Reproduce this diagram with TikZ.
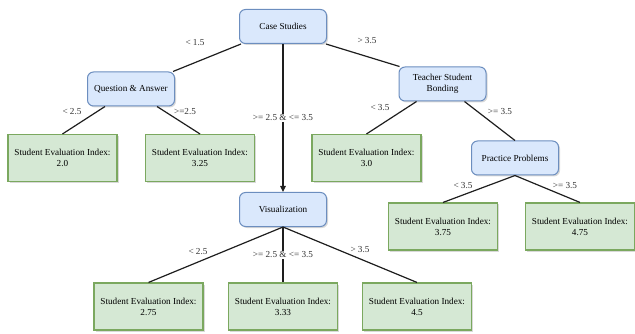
\documentclass[tikz,border=0pt]{standalone}
\usepackage{fontspec}
\setmainfont{Liberation Serif}
\usetikzlibrary{shadows,arrows.meta}
\definecolor{bfill}{HTML}{DAE8FC}
\definecolor{bdraw}{HTML}{6C8EBF}
\definecolor{gfill}{HTML}{D5E8D4}
\definecolor{gdraw}{HTML}{7BA85F}
\definecolor{edgec}{HTML}{1E1E1E}
\definecolor{labc}{HTML}{333333}
\tikzset{
  bluebox/.style={draw=bdraw, fill=bfill, rounded corners=6pt, line width=1pt,
    minimum width=87pt, minimum height=34pt, align=center, inner sep=1pt,
    font=\fontsize{9.2}{11}\selectfont,
    drop shadow={shadow xshift=1.5pt, shadow yshift=-1.5pt, opacity=0.3}},
  greenbox/.style={draw=gdraw, fill=gfill, line width=1.1pt,
    minimum width=109pt, minimum height=47pt, align=center, inner sep=1pt,
    font=\fontsize{9.2}{11}\selectfont,
    drop shadow={shadow xshift=1.5pt, shadow yshift=-1.5pt, opacity=0.3}},
  edge/.style={draw=edgec, line width=1.2pt},
  lab/.style={text=labc, font=\fontsize{9.2}{11}\selectfont, inner sep=1pt},
  labw/.style={lab, fill=white},
}
\begin{document}
\begin{tikzpicture}[x=1pt,y=-1pt]
\useasboundingbox (0,0) rectangle (635,334);

\node[bluebox] (cs) at (283,26.5) {Case Studies};
\node[bluebox] (qa) at (131,89) {Question \& Answer};
\node[bluebox] (tsb) at (442.5,84) {Teacher Student\\Bonding};
\node[bluebox] (vis) at (283,209.5) {Visualization};
\node[bluebox] (pp) at (515,158) {Practice Problems};

\node[greenbox] (l1) at (62.5,158) {Student Evaluation Index:\\2.0};
\node[greenbox] (l2) at (200,158) {Student Evaluation Index:\\3.25};
\node[greenbox] (l3) at (366.5,158) {Student Evaluation Index:\\3.0};
\node[greenbox] (l4) at (443,226.5) {Student Evaluation Index:\\3.75};
\node[greenbox] (l5) at (580,226.5) {Student Evaluation Index:\\4.75};
\node[greenbox] (l6) at (148.5,306.5) {Student Evaluation Index:\\2.75};
\node[greenbox] (l7) at (283,306.5) {Student Evaluation Index:\\3.33};
\node[greenbox] (l8) at (417,306.5) {Student Evaluation Index:\\4.5};

\draw[edge] ([xshift=2pt]cs.south west) -- ([xshift=-2pt]qa.north east);
\draw[edge] ([xshift=-26pt]qa.south) -- (l1.north);
\draw[edge] ([xshift=26pt]qa.south) -- (l2.north);
\draw[edge, -{Triangle[length=6pt,width=5.5pt]}] (cs.south) -- (vis.north);
\draw[edge] ([xshift=-1pt]cs.south east) -- ([xshift=1pt]tsb.north west);
\draw[edge] ([xshift=-26pt]tsb.south) -- (l3.north);
\draw[edge] ([xshift=22pt]tsb.south) -- (pp.north);
\draw[edge] (pp.south) -- (l4.north);
\draw[edge] (pp.south) -- (l5.north);
\draw[edge] (vis.south) -- (l6.north);
\draw[edge] (vis.south) -- (l7.north);
\draw[edge] (vis.south) -- (l8.north);

\node[lab] (t1) at (195,43) {< 1.5};
\node[lab] (t2) at (72,112) {< 2.5};
\node[lab] (t3) at (185,112) {>=2.5};
\node[labw] (t4) at (283,118) {>= 2.5 \& <= 3.5};
\node[lab] (t5) at (367,41) {> 3.5};
\node[lab] (t6) at (380,108) {< 3.5};
\node[lab] (t7) at (500,112) {>= 3.5};
\node[lab] (t8) at (463,186) {< 3.5};
\node[lab] (t9) at (565,186) {>= 3.5};
\node[lab] (t10) at (198,252) {< 2.5};
\node[labw] (t11) at (283,255) {>= 2.5 \& <= 3.5};
\node[lab] (t12) at (360,250) {> 3.5};
\end{tikzpicture}
\end{document}
